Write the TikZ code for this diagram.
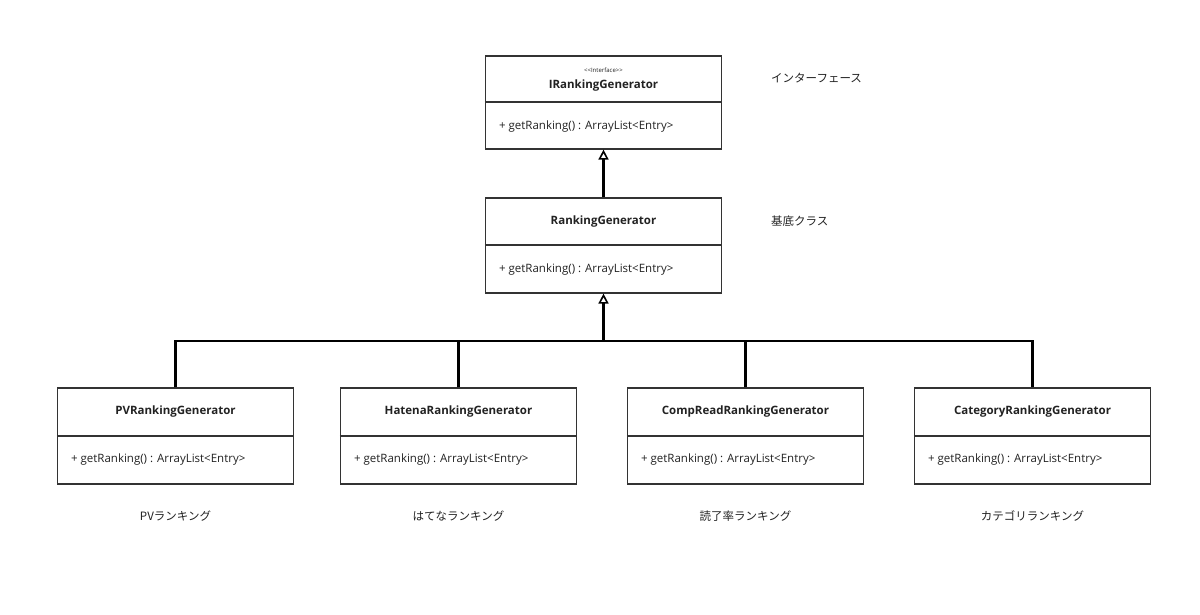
\documentclass[tikz,border=0pt]{standalone}
\usepackage{fontspec}
\setmainfont{Open Sans}
\newfontfamily\jp{Noto Sans CJK JP}
\usetikzlibrary{arrows.meta}
\definecolor{ink}{HTML}{222222}
\definecolor{edge}{HTML}{333333}
\tikzset{
  cls/.style={draw=edge, line width=1.2pt, fill=white, minimum width=236pt, inner sep=0pt},
  divider/.style={draw=edge, line width=1.2pt},
  title/.style={font=\fontsize{11.5}{13}\selectfont\bfseries, text=ink, inner sep=0pt},
  stereo/.style={font=\fontsize{6}{7}\selectfont, text=ink, inner sep=0pt},
  meth/.style={font=\fontsize{11.5}{13}\selectfont, text=ink, inner sep=0pt, anchor=west},
  note/.style={font=\jp\fontsize{11.5}{13}\selectfont, text=ink, inner sep=0pt},
  conn/.style={draw=black, line width=2.4pt},
  inh/.style={conn, -{Triangle[open, length=10pt, width=10pt, line width=1.6pt]}},
}
\begin{document}
\begin{tikzpicture}[x=1pt, y=-1pt]
\useasboundingbox[fill=white] (0,0) rectangle (1200,614);

% IRankingGenerator
\node[cls, minimum height=93pt] (ir) at (603.5,102.5) {};
\draw[divider] (ir.west |- 0,102) -- (ir.east |- 0,102);
\node[stereo] (irs) at (603.5,70) {{<}{<}Interface{>}{>}};
\node[title] (irt) at (603.5,86) {IRankingGenerator};
\node[meth] (irm) at ([xshift=14pt]ir.west |- 0,127) {+ getRanking() : ArrayList<Entry>};

% RankingGenerator
\node[cls, minimum height=95pt] (rg) at (603.5,245.5) {};
\draw[divider] (rg.west |- 0,245) -- (rg.east |- 0,245);
\node[title] (rgt) at (603.5,222) {RankingGenerator};
\node[meth] (rgm) at ([xshift=14pt]rg.west |- 0,270) {+ getRanking() : ArrayList<Entry>};

% bottom classes
\foreach \nm/\cx/\ttl/\lbl in {pv/175.5/PVRankingGenerator/PVランキング,
  hat/458.5/HatenaRankingGenerator/はてなランキング,
  cr/745.5/CompReadRankingGenerator/読了率ランキング,
  cat/1032.5/CategoryRankingGenerator/カテゴリランキング}{
  \node[cls, minimum height=96pt] (\nm) at (\cx,436) {};
  \draw[divider] (\nm.west |- 0,436) -- (\nm.east |- 0,436);
  \node[title] (\nm t) at (\cx,412) {\ttl};
  \node[meth] (\nm m) at ([xshift=14pt]\nm.west |- 0,460) {+ getRanking() : ArrayList<Entry>};
  \node[note] (\nm l) at (\cx,516) {\lbl};
}

% side notes
\node[note, anchor=west] (n1) at (771,78) {インターフェース};
\node[note, anchor=west] (n2) at (771,221) {基底クラス};

% connectors
\draw[inh] (rg.north) -- (ir.south);
\coordinate (busL) at (175.5,341);
\coordinate (busR) at (1032.5,341);
\draw[conn, line join=miter] (pv.north) -- (busL) -- (busR) -- (cat.north);
\draw[conn] (hat.north) -- (hat.north |- busL);
\draw[conn] (cr.north) -- (cr.north |- busL);
\draw[inh] (rg.south |- busL) -- (rg.south);
\end{tikzpicture}
\end{document}
